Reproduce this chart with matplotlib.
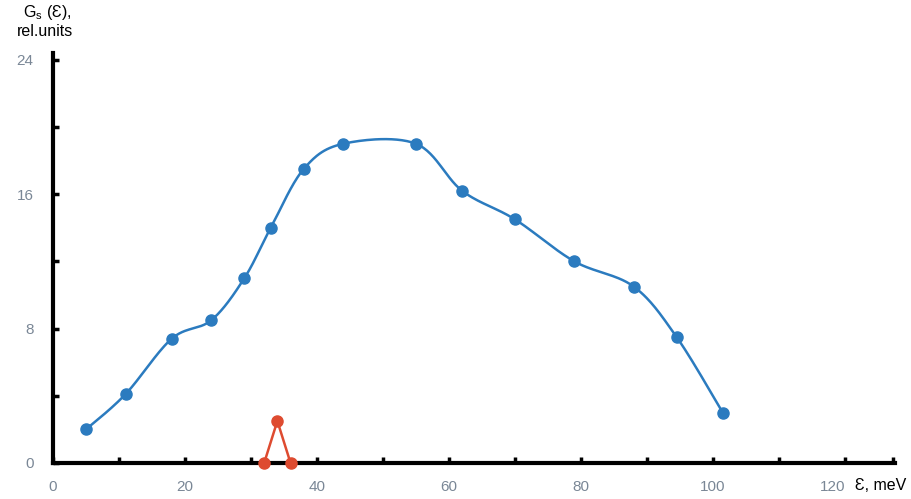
import numpy as np
import matplotlib
matplotlib.use("Agg")
import matplotlib.pyplot as plt
from matplotlib.transforms import ScaledTranslation

# data
blue_x = [5, 11, 18, 24, 29, 33, 38, 44, 55, 62, 70, 79, 88, 94.5, 101.5]
blue_y = [2.0, 4.1, 7.4, 8.5, 11.0, 14.0, 17.5, 19.0, 19.0, 16.2, 14.5, 12.0, 10.5, 7.5, 3.0]
red_x = [32, 34, 36]
red_y = [0.0, 2.5, 0.0]
x_major = [0, 20, 40, 60, 80, 100, 120]
y_major = [0, 8, 16, 24]

def smooth(xs, ys, n=30):
    # Catmull-Rom style smoothing for drawing the connecting line
    xs = np.asarray(xs, float); ys = np.asarray(ys, float)
    P = np.column_stack([xs, ys])
    P = np.vstack([P[0], P, P[-1]])
    out = []
    t = np.linspace(0, 1, n)
    for i in range(1, len(P) - 2):
        p0, p1, p2, p3 = P[i-1], P[i], P[i+1], P[i+2]
        m1 = (p2 - p0) / 6.0
        m2 = (p3 - p1) / 6.0
        b0, b1, b2, b3 = p1, p1 + m1, p2 - m2, p2
        seg = ((1-t)**3)[:, None]*b0 + (3*(1-t)**2*t)[:, None]*b1 + (3*(1-t)*t**2)[:, None]*b2 + (t**3)[:, None]*b3
        out.append(seg if i == 1 else seg[1:])
    s = np.vstack(out)
    return s[:, 0], s[:, 1]

blue = '#2b7bbf'
red = '#de4b30'
tick_col = '#7a8796'

fig = plt.figure(figsize=(9.12, 4.99), dpi=100)
ax = fig.add_axes([53/912, (499-463)/499, (895-53)/912, (463-53)/499])

sx, sy = smooth(blue_x, blue_y)
ax.plot(sx, sy, color=blue, lw=1.8, zorder=3, solid_capstyle='round')
ax.plot(blue_x, blue_y, 'o', color=blue, ms=8, zorder=4)
ax.plot(red_x, red_y, '-o', color=red, lw=1.8, ms=8, zorder=5, clip_on=False)

ax.set_xlim(0, 127.6)
ax.set_ylim(0, 24.4)
for s in ['top', 'right']:
    ax.spines[s].set_visible(False)
for s in ['left', 'bottom']:
    ax.spines[s].set_linewidth(3)
    ax.spines[s].set_color('black')

ax.set_xticks(x_major)
ax.set_xticks(list(range(10, 130, 10)) + [127.3], minor=True)
ax.set_yticks(y_major)
ax.set_yticks([4, 12, 20], minor=True)
ax.tick_params(axis='both', which='both', direction='in', length=4, width=2.5, color='black')
ax.tick_params(axis='both', which='major', labelsize=11, labelcolor=tick_col)
ax.tick_params(axis='x', which='major', pad=12)
ax.tick_params(axis='y', which='major', pad=14)
for lab in ax.get_xticklabels() + ax.get_yticklabels():
    lab.set_fontfamily('Liberation Sans')
xl = ax.get_xticklabels()
xl[-1].set_transform(xl[-1].get_transform() + ScaledTranslation(-12/100, 0, fig.dpi_scale_trans))

fig.text(47/912, 1 - 12/499, r'G$_\mathregular{s}$ (Ɛ),', ha='center', va='center',
         fontsize=11.5, family='Liberation Sans')
fig.text(45/912, 1 - 32/499, 'rel.units', ha='center', va='center',
         fontsize=11.5, family='Liberation Sans')
fig.text(855/912, 1 - 486/499, 'Ɛ, meV', ha='left', va='center',
         fontsize=11.5, family='Liberation Sans')

fig.savefig('out.png', dpi=100)
